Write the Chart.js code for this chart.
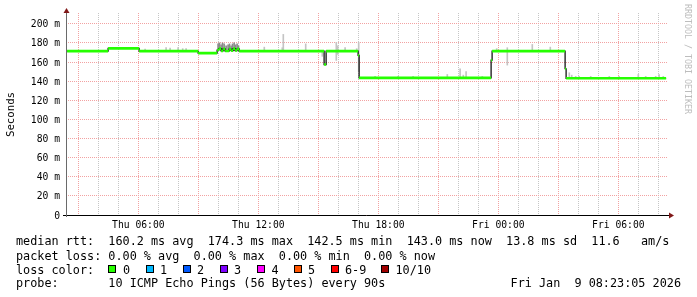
<!DOCTYPE html>
<html><head><meta charset="utf-8">
<script src="https://cdn.jsdelivr.net/npm/chart.js@4.4.1/dist/chart.umd.min.js"></script>
<style>
html,body{margin:0;padding:0;background:#fff;}
#wrap{position:relative;width:697px;height:297px;overflow:hidden;font-family:"DejaVu Sans Mono",monospace;background:#fff;}
canvas{position:absolute;left:0;top:0;}
.t{position:absolute;white-space:pre;font-size:11.8px;line-height:14px;color:#000;}
.sq{position:absolute;width:8px;height:8px;box-sizing:border-box;border:1px solid #000;}
#ylab{position:absolute;left:4px;top:92px;height:45px;width:14px;line-height:14px;font-size:10.7px;writing-mode:vertical-rl;transform:rotate(180deg);white-space:pre;color:#000;text-align:center;}
#wm{position:absolute;left:683px;top:4px;width:10px;line-height:10px;font-size:8.3px;writing-mode:vertical-rl;white-space:pre;color:#bdbdbd;}
</style>
</head>
<body>
<div id="wrap">
<canvas id="c" width="697" height="297"></canvas>
<div id="ylab">Seconds</div>
<div id="wm">RRDTOOL / TOBI OETIKER</div>
<div class="t" style="left:16px;top:234px">median rtt:  160.2 ms avg  174.3 ms max  142.5 ms min  143.0 ms now  13.8 ms sd  11.6   am/s</div>
<div class="t" style="left:16px;top:248.6px">packet loss: 0.00 % avg  0.00 % max  0.00 % min  0.00 % now</div>
<div class="t" style="left:16px;top:262.5px">loss color:</div>
<div id="lossItems"></div>
<div class="t" style="left:16px;top:276.2px">probe:       10 ICMP Echo Pings (56 Bytes) every 90s</div>
<div class="t" style="right:16px;top:276.2px;text-align:right">Fri Jan  9 08:23:05 2026</div>
</div>
<script>
// ---- data (times in hours since Thu 00:00, values in ms) ----
const medianT = [2.44, 4.49, 6.04, 8.99, 9.94, 10.04, 10.14, 10.24, 10.34, 10.44, 10.54, 10.64, 10.74, 10.84, 10.94, 11.04, 15.29, 15.39, 16.99, 17.04, 23.64, 23.69, 27.34, 27.39, 32.39];
const medianV = [171.4, 174.3, 171.4, 169.3, 172.6, 174.0, 171.6, 173.8, 171.5, 171.5, 173.5, 171.8, 174.0, 172.0, 173.8, 171.4, 157.4, 171.4, 167.0, 143.4, 162.0, 171.4, 153.0, 143.0, 143.0];

const smokeT  = [6.34, 7.39, 7.59, 7.99, 8.22, 8.39, 12.30, 13.20, 13.25, 14.37, 15.20, 15.90, 15.97, 16.34, 16.92, 17.02, 17.84, 18.99, 19.74, 21.45, 22.09, 22.25, 22.39, 23.20, 23.92, 24.45, 25.70, 26.60, 27.55, 27.67, 27.87, 28.04, 28.62, 29.55, 30.04, 31.00, 31.37, 31.87, 32.04, 32.25];
const smokeLo = [171.4, 171.4, 171.4, 171.4, 171.4, 171.4, 171.4, 171.4, 171.4, 171.4, 166.0, 161.7, 168.0, 171.4, 171.4, 150.0, 143.0, 143.0, 143.0, 143.0, 143.0, 143.0, 143.0, 143.0, 171.4, 156.8, 171.4, 171.4, 143.0, 143.0, 143.0, 143.0, 143.0, 143.0, 143.0, 143.0, 143.0, 143.0, 143.0, 143.0];
const smokeHi = [173.5, 175.0, 174.5, 175.0, 174.0, 174.0, 175.6, 175.0, 188.9, 179.0, 171.4, 180.5, 177.0, 175.0, 174.0, 180.5, 145.0, 145.0, 145.0, 147.0, 153.0, 146.3, 150.0, 145.0, 174.0, 175.0, 178.4, 175.6, 148.8, 146.3, 145.0, 145.0, 145.0, 145.0, 145.0, 147.0, 145.0, 145.0, 147.0, 145.0];

const denseT  = [9.99, 10.06, 10.14, 10.21, 10.29, 10.39, 10.49, 10.56, 10.64, 10.71, 10.79, 10.86, 10.94, 11.01];
const denseLo = [172.0, 173.0, 172.0, 173.0, 172.0, 172.0, 173.0, 172.0, 172.0, 173.0, 172.0, 172.0, 173.0, 172.0];
const denseHi = [179.0, 180.0, 178.0, 180.0, 179.0, 177.0, 178.0, 179.0, 177.0, 179.0, 180.0, 178.0, 179.0, 177.0];

const xLabelHours = [6, 12, 18, 24, 30];
const xLabels = ['Thu 06:00', 'Thu 12:00', 'Thu 18:00', 'Fri 00:00', 'Fri 06:00'];
const yLabelValues = [0, 20, 40, 60, 80, 100, 120, 140, 160, 180, 200];
const yLabels = ['0', '20 m', '40 m', '60 m', '80 m', '100 m', '120 m', '140 m', '160 m', '180 m', '200 m'];

const lossLabels = ['0', '1', '2', '3', '4', '5', '6-9', '10/10'];
const lossColors = ['#26ff00', '#00b8ff', '#0059ff', '#7e00ff', '#ff00ff', '#ff5500', '#ff0000', '#a10000'];

const X_MIN = 2.385, X_MAX = 32.485, Y_MIN = 0, Y_MAX = 211.3;
// ---- end data ----

const lossX = [108.4, 145.5, 182.5, 219.5, 257, 293.5, 330.5, 381];
const li = document.getElementById('lossItems');
lossLabels.forEach((lab, i) => {
  const s = document.createElement('div');
  s.className = 'sq'; s.style.left = lossX[i] + 'px'; s.style.top = '264.5px'; s.style.background = lossColors[i];
  li.appendChild(s);
  const t = document.createElement('div');
  t.className = 't'; t.style.left = (lossX[i] + 14.5) + 'px'; t.style.top = '262.5px'; t.textContent = lab;
  li.appendChild(t);
});

const medianPts = medianT.map((t, i) => ({x: t, y: medianV[i]}));
const greenPts = [];
for (let i = 0; i < medianT.length - 1; i++) {
  greenPts.push({x: medianT[i], y: medianV[i]});
  greenPts.push({x: medianT[i + 1], y: medianV[i]});
  greenPts.push({x: medianT[i + 1], y: null});
}
const smoke = smokeT.map((t, i) => ({x: t, y: [smokeLo[i], smokeHi[i]]}));
const dense = denseT.map((t, i) => ({x: t, y: [denseLo[i], denseHi[i]]}));

const RED = '#f2a2a2', GRAY = '#c6c6c6';
const FONT = 'DejaVu Sans Mono';

const hourTicks = [];
for (let h = Math.ceil(X_MIN); h <= X_MAX; h++) hourTicks.push(h);
const yTicks = [];
for (let v = 0; v <= Y_MAX; v += 10) yTicks.push(v);

const axesPlugin = {
  id: 'rrdAxes',
  afterDatasetsDraw(ch) {
    const {ctx, chartArea: a} = ch;
    ctx.save();
    ctx.lineWidth = 1;
    ctx.strokeStyle = '#000';
    ctx.beginPath(); ctx.moveTo(a.left - 3, a.bottom + 0.5); ctx.lineTo(a.right + 2, a.bottom + 0.5); ctx.stroke();
    ctx.strokeStyle = '#6a6a6a';
    ctx.beginPath(); ctx.moveTo(a.left + 0.5, a.bottom + 2); ctx.lineTo(a.left + 0.5, a.top - 2); ctx.stroke();
    ctx.fillStyle = '#801818';
    ctx.beginPath(); ctx.moveTo(a.left + 0.5, a.top - 5); ctx.lineTo(a.left - 2.5, a.top); ctx.lineTo(a.left + 3.5, a.top); ctx.closePath(); ctx.fill();
    ctx.beginPath(); ctx.moveTo(a.right + 6, a.bottom + 0.5); ctx.lineTo(a.right + 1, a.bottom - 2.5); ctx.lineTo(a.right + 1, a.bottom + 3.5); ctx.closePath(); ctx.fill();
    ctx.restore();
  }
};

new Chart(document.getElementById('c'), {
  type: 'line',
  data: {
    datasets: [
      {type: 'bar', label: 'smoke', data: smoke, backgroundColor: '#c4c4c4', barThickness: 1, grouped: false, order: 3, borderWidth: 0},
      {type: 'bar', label: 'smoke dense', data: dense, backgroundColor: '#8a8a8a', barThickness: 1, grouped: false, order: 2, borderWidth: 0},
      {label: 'median', data: medianPts, stepped: true, borderColor: '#000', borderWidth: 1.2, pointRadius: 0, fill: false, order: 1},
      {label: 'median loss 0', data: greenPts, borderColor: '#26ff00', borderWidth: 2.6, pointRadius: 0, fill: false, spanGaps: false, order: 0}
    ]
  },
  options: {
    responsive: false,
    animation: false,
    devicePixelRatio: 1,
    layout: {padding: {top: 13, right: 29, left: 0, bottom: 0}},
    plugins: {legend: {display: false}, tooltip: {enabled: false}, title: {display: false}},
    scales: {
      x: {
        type: 'linear', min: X_MIN, max: X_MAX, offset: false,
        afterBuildTicks: s => { s.ticks = hourTicks.map(v => ({value: v})); },
        afterFit: s => { s.height = 82; },
        grid: {color: c => (c.tick && c.tick.value % 3 === 0) ? RED : GRAY, lineWidth: 1, drawTicks: false, offset: false},
        border: {display: false, dash: [1, 1]},
        ticks: {
          autoSkip: false, maxRotation: 0, minRotation: 0, padding: 5, color: '#000',
          font: {family: FONT, size: 9.7},
          callback: v => { const k = xLabelHours.indexOf(v); return k >= 0 ? xLabels[k] : ''; }
        }
      },
      y: {
        type: 'linear', min: Y_MIN, max: Y_MAX,
        afterBuildTicks: s => { s.ticks = yTicks.map(v => ({value: v})); },
        afterFit: s => { s.width = 66; },
        grid: {color: c => (c.tick && c.tick.value % 20 === 0) ? RED : GRAY, lineWidth: 1, drawTicks: false},
        border: {display: false, dash: [1, 1]},
        ticks: {
          padding: 6, labelOffset: 1, color: '#000', font: {family: FONT, size: 9.7},
          callback: v => { const k = yLabelValues.indexOf(v); return k >= 0 ? yLabels[k] : ''; }
        }
      }
    }
  },
  plugins: [axesPlugin]
});
</script>
</body></html>
